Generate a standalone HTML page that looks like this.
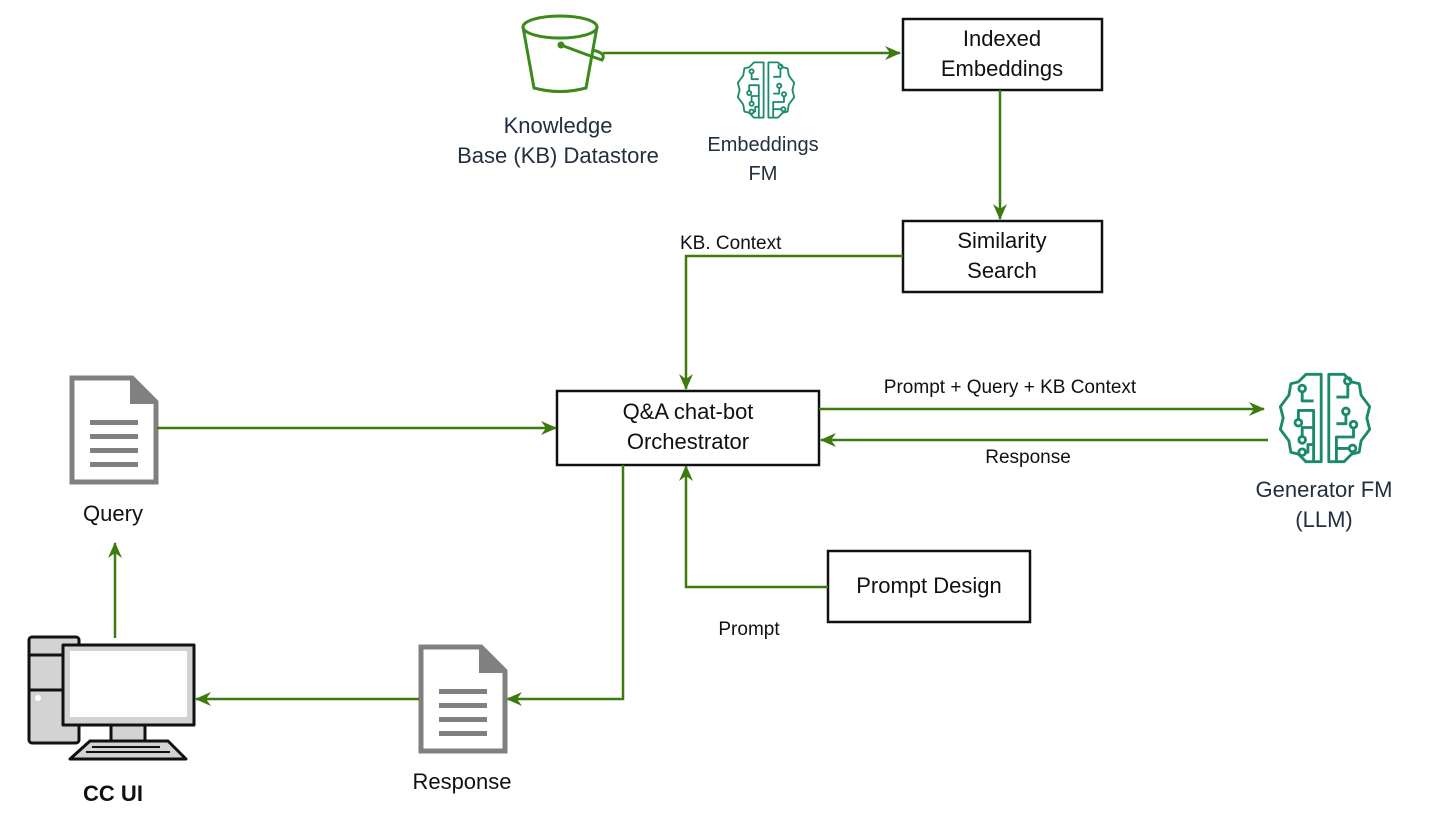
<!DOCTYPE html>
<html><head><meta charset="utf-8"><style>
html,body{margin:0;padding:0;background:#fff;}
svg{display:block;}
text{font-family:"Liberation Sans",sans-serif;}
</style></head><body>
<svg width="1430" height="834" viewBox="0 0 1430 834" xmlns="http://www.w3.org/2000/svg">
<defs>
<marker id="ah" viewBox="0 0 16 14" refX="15" refY="7" markerWidth="16" markerHeight="14" markerUnits="userSpaceOnUse" orient="auto">
<path d="M0,0 L16,7 L0,14 L5,7 Z" fill="#3d7a0f"/>
</marker>
<g id="brain" fill="none" stroke="#1b8a6b" stroke-width="3" stroke-linejoin="round">
<path d="M-4,-46 L-20,-46 L-28,-38 L-36,-36 L-38,-24 L-47,-12 L-44,0 L-47,12 L-38,24 L-36,36 L-28,38 L-20,46 L-4,46 Z"/>
<path d="M4,-46 L20,-46 L28,-38 L36,-36 L38,-24 L47,-12 L44,0 L47,12 L38,24 L36,36 L28,38 L20,46 L4,46 Z"/>
<path d="M-12,46 L-12,-8 L-28,-8 L-28,2 M-12,-18 L-24,-18 L-24,-28 M-12,10 L-24,10 L-24,20 M-12,28 L-18,28 L-18,36 L-22,36"/>
<path d="M12,46 L12,20 L30,20 L30,10 M12,6 L22,6 L22,-4 M12,-22 L24,-22 L24,-36 M12,32 L26,32"/>
<circle cx="-24" cy="-31" r="3.5"/><circle cx="-28" cy="5" r="3.5"/><circle cx="-24" cy="23" r="3.5"/><circle cx="-24" cy="36" r="3.5"/>
<circle cx="24" cy="-39" r="3.5"/><circle cx="22" cy="-7" r="3.5"/><circle cx="30" cy="7" r="3.5"/><circle cx="29" cy="32" r="3.5"/>
</g>
<g id="doc">
<path d="M2,2 L62,2 L86,26 L86,106 L2,106 Z" fill="#fff" stroke="#808080" stroke-width="5"/>
<path d="M60,2 L86,28 L60,28 Z" fill="#808080"/>
<rect x="20" y="44" width="48" height="5" fill="#808080"/>
<rect x="20" y="58" width="48" height="5" fill="#808080"/>
<rect x="20" y="72" width="48" height="5" fill="#808080"/>
<rect x="20" y="86" width="48" height="5" fill="#808080"/>
</g>
</defs>

<!-- bucket -->
<g fill="none" stroke="#3c8a1c" stroke-width="3">
<ellipse cx="560" cy="27" rx="37" ry="11"/>
<path d="M523,27 L534,88 Q560,95 586,88 L597,27"/>
<path d="M561,45 Q590,56 602,60 Q607,53 592,50"/>
</g>
<circle cx="561" cy="45" r="3.5" fill="#3c8a1c"/>
<line x1="603" y1="53" x2="900" y2="53" stroke="#3d7a0f" stroke-width="2.5" marker-end="url(#ah)"/>
<text x="558" y="133" font-size="22" fill="#232f3e" text-anchor="middle">Knowledge</text>
<text x="558" y="163" font-size="22" fill="#232f3e" text-anchor="middle">Base (KB) Datastore</text>

<use href="#brain" transform="translate(766,90) scale(0.6)"/>
<text x="763" y="151" font-size="20" fill="#232f3e" text-anchor="middle">Embeddings</text>
<text x="763" y="180" font-size="20" fill="#232f3e" text-anchor="middle">FM</text>

<rect x="903" y="19" width="199" height="71" fill="#fff" stroke="#111" stroke-width="2.5"/>
<text x="1002" y="46" font-size="22" text-anchor="middle" fill="#111">Indexed</text>
<text x="1002" y="76" font-size="22" text-anchor="middle" fill="#111">Embeddings</text>
<line x1="1000" y1="90" x2="1000" y2="219" stroke="#3d7a0f" stroke-width="2.5" marker-end="url(#ah)"/>

<rect x="903" y="221" width="199" height="71" fill="#fff" stroke="#111" stroke-width="2.5"/>
<text x="1002" y="248" font-size="22" text-anchor="middle" fill="#111">Similarity</text>
<text x="1002" y="278" font-size="22" text-anchor="middle" fill="#111">Search</text>

<polyline points="903,256 686,256 686,389" fill="none" stroke="#3d7a0f" stroke-width="2.5" marker-end="url(#ah)"/>
<text x="680" y="249" font-size="19" fill="#111">KB. Context</text>

<rect x="557" y="391" width="262" height="74" fill="#fff" stroke="#111" stroke-width="2.5"/>
<text x="688" y="419" font-size="22" text-anchor="middle" fill="#111">Q&amp;A chat-bot</text>
<text x="688" y="449" font-size="22" text-anchor="middle" fill="#111">Orchestrator</text>

<line x1="819" y1="409" x2="1264" y2="409" stroke="#3d7a0f" stroke-width="2.5" marker-end="url(#ah)"/>
<line x1="1268" y1="440" x2="821" y2="440" stroke="#3d7a0f" stroke-width="2.5" marker-end="url(#ah)"/>
<text x="1010" y="393" font-size="19" text-anchor="middle" fill="#111">Prompt + Query + KB Context</text>
<text x="1028" y="463" font-size="19" text-anchor="middle" fill="#111">Response</text>

<use href="#brain" transform="translate(1325,418) scale(0.95)"/>
<text x="1324" y="497" font-size="22" fill="#232f3e" text-anchor="middle">Generator FM</text>
<text x="1324" y="527" font-size="22" fill="#232f3e" text-anchor="middle">(LLM)</text>

<use href="#doc" transform="translate(70,376)"/>
<line x1="157" y1="428" x2="556" y2="428" stroke="#3d7a0f" stroke-width="2.5" marker-end="url(#ah)"/>
<text x="113" y="521" font-size="22" text-anchor="middle" fill="#111">Query</text>
<line x1="115" y1="638" x2="115" y2="543" stroke="#3d7a0f" stroke-width="2.5" marker-end="url(#ah)"/>

<!-- computer -->
<g stroke="#111" stroke-width="3" fill="#d3d3d3" stroke-linejoin="round">
<rect x="29" y="637" width="50" height="106" rx="3"/>
<line x1="29" y1="655" x2="79" y2="655"/>
<line x1="29" y1="690" x2="79" y2="690"/>
<rect x="111" y="725" width="34" height="16"/>
<path d="M90,741 L168,741 L186,759 L70,759 Z"/>
<rect x="63" y="645" width="131" height="80"/>
</g>
<rect x="70" y="651" width="117" height="66" fill="#fff"/>
<circle cx="38" cy="698" r="3" fill="#fff"/>
<g stroke="#111" stroke-width="2"><line x1="92" y1="747" x2="160" y2="747"/><line x1="86" y1="752" x2="170" y2="752"/></g>
<text x="113" y="801" font-size="22" font-weight="bold" text-anchor="middle" fill="#111">CC UI</text>

<polyline points="623,465 623,699 507,699" fill="none" stroke="#3d7a0f" stroke-width="2.5" marker-end="url(#ah)"/>
<use href="#doc" transform="translate(419,645)"/>
<line x1="419" y1="699" x2="196" y2="699" stroke="#3d7a0f" stroke-width="2.5" marker-end="url(#ah)"/>
<text x="462" y="789" font-size="22" text-anchor="middle" fill="#111">Response</text>

<rect x="828" y="551" width="202" height="71" fill="#fff" stroke="#111" stroke-width="2.5"/>
<text x="929" y="593" font-size="22" text-anchor="middle" fill="#111">Prompt Design</text>
<polyline points="828,587 686,587 686,466" fill="none" stroke="#3d7a0f" stroke-width="2.5" marker-end="url(#ah)"/>
<text x="749" y="635" font-size="19" text-anchor="middle" fill="#111">Prompt</text>
</svg>
</body></html>
